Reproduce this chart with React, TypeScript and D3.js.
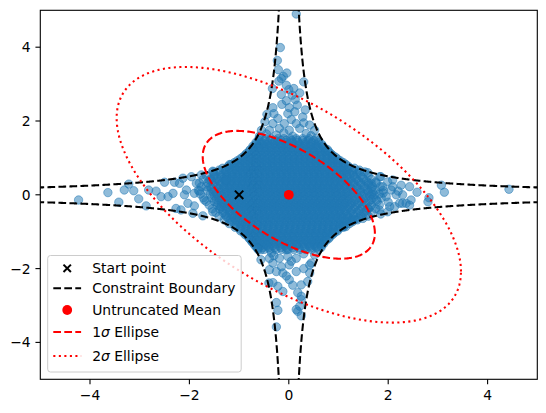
import React from 'react';
import * as d3 from 'd3';

const W = 546;
const H = 413;
const xDomain: [number, number] = [-5, 5];
const yDomain: [number, number] = [-5, 5];
const xTicks = [-4, -2, 0, 2, 4];
const yTicks = [-4, -2, 0, 2, 4];

const meanVec = [0, 0];
const covMat = [[3, -1.8], [-1.8, 3]];
const startPoint = [-1, 0];
const constraintC = 1;
const ellipseSigmas = [1, 2];

const legendLabels = ['Start point', 'Constraint Boundary', 'Untruncated Mean', '1σ Ellipse', '2σ Ellipse'];

// dense core of the sample cloud, one row per y value
const coreRows: [number, number[]][] = [
  [1.52, [-0.6, -0.47, -0.36, -0.22, -0.1, 0.03, 0.15, 0.28, 0.41, 0.55]],
  [1.42, [-0.66, -0.55, -0.43, -0.3, -0.19, -0.06, 0.07, 0.19, 0.33, 0.46, 0.6]],
  [1.32, [-0.72, -0.61, -0.5, -0.39, -0.27, -0.15, -0.04, 0.09, 0.2, 0.31, 0.43, 0.55, 0.68]],
  [1.22, [-0.78, -0.67, -0.56, -0.45, -0.34, -0.22, -0.11, 0, 0.12, 0.23, 0.35, 0.46, 0.58, 0.7, 0.78]],
  [1.12, [-0.85, -0.74, -0.62, -0.51, -0.4, -0.29, -0.17, -0.06, 0.05, 0.16, 0.28, 0.39, 0.5, 0.62, 0.73, 0.84]],
  [1.02, [-0.93, -0.82, -0.71, -0.6, -0.49, -0.37, -0.26, -0.14, -0.03, 0.09, 0.2, 0.31, 0.42, 0.54, 0.65, 0.76, 0.87, 0.94]],
  [0.92, [-1.04, -0.93, -0.82, -0.71, -0.6, -0.48, -0.37, -0.26, -0.15, -0.04, 0.07, 0.18, 0.29, 0.4, 0.51, 0.62, 0.73, 0.84, 0.95, 1.04]],
  [0.82, [-1.16, -1.05, -0.94, -0.83, -0.72, -0.61, -0.5, -0.39, -0.28, -0.17, -0.06, 0.05, 0.16, 0.27, 0.38, 0.49, 0.6, 0.71, 0.82, 0.93, 1.04, 1.15]],
  [0.72, [-1.33, -1.2, -1.09, -0.98, -0.87, -0.76, -0.65, -0.54, -0.43, -0.32, -0.21, -0.1, 0.01, 0.12, 0.23, 0.34, 0.45, 0.56, 0.67, 0.78, 0.89, 1.0, 1.11, 1.22, 1.32]],
  [0.62, [-1.52, -1.38, -1.26, -1.15, -1.04, -0.93, -0.82, -0.71, -0.6, -0.49, -0.38, -0.27, -0.16, -0.05, 0.06, 0.17, 0.28, 0.39, 0.5, 0.61, 0.72, 0.83, 0.94, 1.05, 1.16, 1.28, 1.42, 1.53]],
  [0.52, [-1.66, -1.5, -1.37, -1.25, -1.14, -1.03, -0.92, -0.81, -0.7, -0.59, -0.48, -0.37, -0.26, -0.15, -0.04, 0.07, 0.18, 0.29, 0.4, 0.51, 0.62, 0.73, 0.84, 0.95, 1.06, 1.17, 1.3, 1.44, 1.6]],
  [0.42, [-1.72, -1.57, -1.44, -1.31, -1.2, -1.09, -0.98, -0.87, -0.76, -0.65, -0.54, -0.43, -0.32, -0.21, -0.1, 0.01, 0.12, 0.23, 0.34, 0.45, 0.56, 0.67, 0.78, 0.89, 1.0, 1.11, 1.23, 1.36, 1.5, 1.66]],
  [0.32, [-1.8, -1.63, -1.49, -1.36, -1.25, -1.14, -1.03, -0.92, -0.81, -0.7, -0.59, -0.48, -0.37, -0.26, -0.15, -0.04, 0.07, 0.18, 0.29, 0.4, 0.51, 0.62, 0.73, 0.84, 0.95, 1.06, 1.18, 1.31, 1.45, 1.6, 1.76]],
  [0.22, [-1.76, -1.58, -1.44, -1.31, -1.2, -1.09, -0.98, -0.87, -0.76, -0.65, -0.54, -0.43, -0.32, -0.21, -0.1, 0.01, 0.12, 0.23, 0.34, 0.45, 0.56, 0.67, 0.78, 0.89, 1.0, 1.12, 1.24, 1.37, 1.52, 1.68, 1.84]],
  [0.12, [-1.82, -1.64, -1.5, -1.37, -1.25, -1.14, -1.03, -0.92, -0.81, -0.7, -0.59, -0.48, -0.37, -0.26, -0.15, -0.04, 0.07, 0.18, 0.29, 0.4, 0.51, 0.62, 0.73, 0.84, 0.95, 1.06, 1.18, 1.3, 1.44, 1.58, 1.74, 1.9]],
  [0.02, [-1.78, -1.58, -1.44, -1.31, -1.2, -1.09, -0.98, -0.87, -0.76, -0.65, -0.54, -0.43, -0.32, -0.21, -0.1, 0.01, 0.12, 0.23, 0.34, 0.45, 0.56, 0.67, 0.78, 0.89, 1.0, 1.12, 1.24, 1.37, 1.51, 1.66, 1.82]],
  [-0.08, [-1.72, -1.55, -1.41, -1.28, -1.16, -1.05, -0.94, -0.83, -0.72, -0.61, -0.5, -0.39, -0.28, -0.17, -0.06, 0.05, 0.16, 0.27, 0.38, 0.49, 0.6, 0.71, 0.82, 0.93, 1.04, 1.16, 1.28, 1.41, 1.55, 1.7, 1.86]],
  [-0.18, [-1.66, -1.5, -1.36, -1.24, -1.13, -1.02, -0.91, -0.8, -0.69, -0.58, -0.47, -0.36, -0.25, -0.14, -0.03, 0.08, 0.19, 0.3, 0.41, 0.52, 0.63, 0.74, 0.85, 0.96, 1.07, 1.19, 1.32, 1.46, 1.61, 1.78]],
  [-0.28, [-1.6, -1.44, -1.31, -1.19, -1.08, -0.97, -0.86, -0.75, -0.64, -0.53, -0.42, -0.31, -0.2, -0.09, 0.02, 0.13, 0.24, 0.35, 0.46, 0.57, 0.68, 0.79, 0.9, 1.01, 1.12, 1.24, 1.37, 1.51, 1.66, 1.82]],
  [-0.38, [-1.54, -1.39, -1.26, -1.14, -1.03, -0.92, -0.81, -0.7, -0.59, -0.48, -0.37, -0.26, -0.15, -0.04, 0.07, 0.18, 0.29, 0.4, 0.51, 0.62, 0.73, 0.84, 0.95, 1.06, 1.18, 1.31, 1.45, 1.6, 1.75]],
  [-0.48, [-1.47, -1.33, -1.2, -1.08, -0.97, -0.86, -0.75, -0.64, -0.53, -0.42, -0.31, -0.2, -0.09, 0.02, 0.13, 0.24, 0.35, 0.46, 0.57, 0.68, 0.79, 0.9, 1.01, 1.12, 1.24, 1.37, 1.51, 1.66]],
  [-0.58, [-1.4, -1.26, -1.14, -1.03, -0.92, -0.81, -0.7, -0.59, -0.48, -0.37, -0.26, -0.15, -0.04, 0.07, 0.18, 0.29, 0.4, 0.51, 0.62, 0.73, 0.84, 0.95, 1.06, 1.18, 1.31, 1.45, 1.6]],
  [-0.68, [-1.3, -1.18, -1.07, -0.96, -0.85, -0.74, -0.63, -0.52, -0.41, -0.3, -0.19, -0.08, 0.03, 0.14, 0.25, 0.36, 0.47, 0.58, 0.69, 0.8, 0.91, 1.02, 1.13, 1.25, 1.38]],
  [-0.78, [-1.2, -1.09, -0.98, -0.87, -0.76, -0.65, -0.54, -0.43, -0.32, -0.21, -0.1, 0.01, 0.12, 0.23, 0.34, 0.45, 0.56, 0.67, 0.78, 0.89, 1.0, 1.11, 1.22]],
  [-0.88, [-1.08, -0.97, -0.86, -0.75, -0.64, -0.53, -0.42, -0.31, -0.2, -0.09, 0.02, 0.13, 0.24, 0.35, 0.46, 0.57, 0.68, 0.79, 0.9, 1.02, 1.1]],
  [-0.98, [-0.97, -0.86, -0.75, -0.64, -0.53, -0.42, -0.31, -0.2, -0.09, 0.02, 0.13, 0.24, 0.35, 0.46, 0.57, 0.68, 0.79, 0.9, 0.98]],
  [-1.08, [-0.88, -0.77, -0.66, -0.55, -0.44, -0.33, -0.22, -0.11, 0, 0.11, 0.22, 0.33, 0.44, 0.55, 0.66, 0.77, 0.88]],
  [-1.18, [-0.8, -0.69, -0.58, -0.47, -0.36, -0.25, -0.14, -0.03, 0.08, 0.19, 0.3, 0.41, 0.52, 0.63, 0.74, 0.81]],
  [-1.28, [-0.74, -0.63, -0.52, -0.41, -0.3, -0.19, -0.08, 0.03, 0.14, 0.25, 0.36, 0.47, 0.58, 0.69]],
  [-1.38, [-0.68, -0.56, -0.44, -0.32, -0.2, -0.08, 0.04, 0.16, 0.28, 0.4, 0.52, 0.65]],
  [-1.48, [-0.62, -0.5, -0.38, -0.26, -0.14, -0.02, 0.1, 0.22, 0.34, 0.46, 0.6]],
];

// interleaved rows of the core (the densest part of the cloud)
const coreRowsInner: [number, number[]][] = [
  [1.47, [-0.6, -0.49, -0.38, -0.27, -0.16, -0.05, 0.06, 0.17, 0.28, 0.39, 0.5, 0.6]],
  [1.37, [-0.66, -0.55, -0.44, -0.33, -0.22, -0.11, 0, 0.11, 0.22, 0.33, 0.44, 0.55, 0.66]],
  [1.27, [-0.72, -0.61, -0.5, -0.39, -0.28, -0.17, -0.06, 0.05, 0.16, 0.27, 0.38, 0.49, 0.6, 0.72]],
  [1.17, [-0.8, -0.69, -0.58, -0.47, -0.36, -0.25, -0.14, -0.03, 0.08, 0.19, 0.3, 0.41, 0.52, 0.63, 0.74, 0.8]],
  [1.07, [-0.88, -0.77, -0.66, -0.55, -0.44, -0.33, -0.22, -0.11, 0, 0.11, 0.22, 0.33, 0.44, 0.55, 0.66, 0.77, 0.88]],
  [0.97, [-0.98, -0.87, -0.76, -0.65, -0.54, -0.43, -0.32, -0.21, -0.1, 0.01, 0.12, 0.23, 0.34, 0.45, 0.56, 0.67, 0.78, 0.89, 0.98]],
  [0.87, [-1.1, -0.99, -0.88, -0.77, -0.66, -0.55, -0.44, -0.33, -0.22, -0.11, 0, 0.11, 0.22, 0.33, 0.44, 0.55, 0.66, 0.77, 0.88, 0.99, 1.1]],
  [0.77, [-1.22, -1.1, -0.99, -0.88, -0.77, -0.66, -0.55, -0.44, -0.33, -0.22, -0.11, 0, 0.11, 0.22, 0.33, 0.44, 0.55, 0.66, 0.77, 0.88, 0.99, 1.1, 1.2]],
  [0.67, [-1.4, -1.27, -1.15, -1.04, -0.93, -0.82, -0.71, -0.6, -0.49, -0.38, -0.27, -0.16, -0.05, 0.06, 0.17, 0.28, 0.39, 0.5, 0.61, 0.72, 0.83, 0.94, 1.05, 1.17, 1.3]],
  [0.57, [-1.5, -1.32, -1.2, -1.09, -0.98, -0.87, -0.76, -0.65, -0.54, -0.43, -0.32, -0.21, -0.1, 0.01, 0.12, 0.23, 0.34, 0.45, 0.56, 0.67, 0.78, 0.89, 1.0, 1.11, 1.23, 1.37]],
  [0.47, [-1.5, -1.36, -1.25, -1.14, -1.03, -0.92, -0.81, -0.7, -0.59, -0.48, -0.37, -0.26, -0.15, -0.04, 0.07, 0.18, 0.29, 0.4, 0.51, 0.62, 0.73, 0.84, 0.95, 1.06, 1.18, 1.32, 1.48]],
  [0.37, [-1.55, -1.4, -1.28, -1.17, -1.06, -0.95, -0.84, -0.73, -0.62, -0.51, -0.4, -0.29, -0.18, -0.07, 0.04, 0.15, 0.26, 0.37, 0.48, 0.59, 0.7, 0.81, 0.92, 1.03, 1.14, 1.26, 1.4, 1.56]],
  [0.27, [-1.52, -1.38, -1.26, -1.15, -1.04, -0.93, -0.82, -0.71, -0.6, -0.49, -0.38, -0.27, -0.16, -0.05, 0.06, 0.17, 0.28, 0.39, 0.5, 0.61, 0.72, 0.83, 0.94, 1.05, 1.17, 1.3, 1.45, 1.6]],
  [0.17, [-1.56, -1.42, -1.3, -1.19, -1.08, -0.97, -0.86, -0.75, -0.64, -0.53, -0.42, -0.31, -0.2, -0.09, 0.02, 0.13, 0.24, 0.35, 0.46, 0.57, 0.68, 0.79, 0.9, 1.01, 1.12, 1.24, 1.37, 1.52, 1.66]],
  [0.07, [-1.52, -1.38, -1.26, -1.15, -1.04, -0.93, -0.82, -0.71, -0.6, -0.49, -0.38, -0.27, -0.16, -0.05, 0.06, 0.17, 0.28, 0.39, 0.5, 0.61, 0.72, 0.83, 0.94, 1.05, 1.17, 1.3, 1.44, 1.6]],
  [-0.03, [-1.5, -1.36, -1.24, -1.13, -1.02, -0.91, -0.8, -0.69, -0.58, -0.47, -0.36, -0.25, -0.14, -0.03, 0.08, 0.19, 0.3, 0.41, 0.52, 0.63, 0.74, 0.85, 0.96, 1.07, 1.19, 1.32, 1.47, 1.63]],
  [-0.13, [-1.46, -1.33, -1.21, -1.1, -0.99, -0.88, -0.77, -0.66, -0.55, -0.44, -0.33, -0.22, -0.11, 0, 0.11, 0.22, 0.33, 0.44, 0.55, 0.66, 0.77, 0.88, 0.99, 1.1, 1.22, 1.35, 1.5, 1.66]],
  [-0.23, [-1.42, -1.29, -1.17, -1.06, -0.95, -0.84, -0.73, -0.62, -0.51, -0.4, -0.29, -0.18, -0.07, 0.04, 0.15, 0.26, 0.37, 0.48, 0.59, 0.7, 0.81, 0.92, 1.03, 1.14, 1.26, 1.4, 1.55]],
  [-0.33, [-1.37, -1.24, -1.12, -1.01, -0.9, -0.79, -0.68, -0.57, -0.46, -0.35, -0.24, -0.13, -0.02, 0.09, 0.2, 0.31, 0.42, 0.53, 0.64, 0.75, 0.86, 0.97, 1.08, 1.2, 1.33, 1.48, 1.64]],
  [-0.43, [-1.32, -1.19, -1.08, -0.97, -0.86, -0.75, -0.64, -0.53, -0.42, -0.31, -0.2, -0.09, 0.02, 0.13, 0.24, 0.35, 0.46, 0.57, 0.68, 0.79, 0.9, 1.01, 1.13, 1.26, 1.41, 1.56]],
  [-0.53, [-1.28, -1.15, -1.04, -0.93, -0.82, -0.71, -0.6, -0.49, -0.38, -0.27, -0.16, -0.05, 0.06, 0.17, 0.28, 0.39, 0.5, 0.61, 0.72, 0.83, 0.94, 1.05, 1.17, 1.3, 1.45]],
  [-0.63, [-1.22, -1.1, -0.99, -0.88, -0.77, -0.66, -0.55, -0.44, -0.33, -0.22, -0.11, 0, 0.11, 0.22, 0.33, 0.44, 0.55, 0.66, 0.77, 0.88, 0.99, 1.1, 1.22, 1.4]],
  [-0.73, [-1.14, -1.03, -0.92, -0.81, -0.7, -0.59, -0.48, -0.37, -0.26, -0.15, -0.04, 0.07, 0.18, 0.29, 0.4, 0.51, 0.62, 0.73, 0.84, 0.95, 1.06, 1.17, 1.28]],
  [-0.83, [-1.06, -0.95, -0.84, -0.73, -0.62, -0.51, -0.4, -0.29, -0.18, -0.07, 0.04, 0.15, 0.26, 0.37, 0.48, 0.59, 0.7, 0.81, 0.92, 1.03, 1.12]],
  [-0.93, [-0.98, -0.87, -0.76, -0.65, -0.54, -0.43, -0.32, -0.21, -0.1, 0.01, 0.12, 0.23, 0.34, 0.45, 0.56, 0.67, 0.78, 0.89, 1.0]],
  [-1.03, [-0.9, -0.79, -0.68, -0.57, -0.46, -0.35, -0.24, -0.13, -0.02, 0.09, 0.2, 0.31, 0.42, 0.53, 0.64, 0.75, 0.86, 0.92]],
  [-1.13, [-0.82, -0.71, -0.6, -0.49, -0.38, -0.27, -0.16, -0.05, 0.06, 0.17, 0.28, 0.39, 0.5, 0.61, 0.72, 0.83]],
  [-1.23, [-0.76, -0.65, -0.54, -0.43, -0.32, -0.21, -0.1, 0.01, 0.12, 0.23, 0.34, 0.45, 0.56, 0.67, 0.76]],
  [-1.33, [-0.7, -0.59, -0.48, -0.37, -0.26, -0.15, -0.04, 0.07, 0.18, 0.29, 0.4, 0.51, 0.62, 0.7]],
  [-1.43, [-0.64, -0.52, -0.4, -0.28, -0.16, -0.04, 0.08, 0.2, 0.32, 0.44, 0.56, 0.65]],
];

const upperArm: [number, number][] = [
  [0.15, 4.9], [-0.17, 3.99], [-0.23, 3.64], [-0.21, 3.39], [-0.04, 3.3], [-0.11, 3.21], [-0.15, 3.15],
  [-0.2, 3.08], [0.3, 3.06], [-0.05, 2.97], [-0.33, 2.88], [0, 2.85], [0.1, 2.88], [0.22, 2.76], [0.07, 2.7],
  [-0.15, 2.72], [0.13, 2.58], [-0.14, 2.45], [-0.32, 2.36], [0.01, 2.36], [0.17, 2.43], [-0.44, 2.18],
  [-0.22, 2.07], [-0.02, 2.2], [0.05, 2.04], [0.28, 2.11], [-0.48, 1.98], [-0.32, 1.93], [-0.09, 1.93],
  [0.15, 1.93], [0.42, 1.89], [0.52, 1.75], [-0.55, 1.75], [-0.39, 1.75], [-0.19, 1.8], [0.01, 1.75],
  [0.22, 1.8], [0.35, 1.66], [-0.59, 1.59], [-0.25, 1.62], [0.08, 1.59], [-0.45, 1.65], [0.45, 1.6],
  [-0.1, 1.68], [0.3, 1.95], [-0.3, 2.2], [0.12, 2.25], [-0.05, 2.55], [0.33, 2.3],
];

const lowerArm: [number, number][] = [
  [-0.25, -3.58], [-0.22, -3.13], [-0.25, -2.92], [-0.12, -2.62], [-0.22, -2.48], [-0.32, -2.38], [-0.4, -2.39],
  [0.18, -3.16], [0.25, -3.28], [0.22, -3.02], [0.25, -2.84], [0.18, -2.65], [0.25, -2.44], [0.38, -2.35],
  [0.01, -2.3], [0.15, -2.08], [-0.12, -2.12], [-0.25, -2.08], [-0.39, -2.03], [0.42, -2.12], [0.45, -1.85],
  [0.01, -1.9], [-0.32, -1.85], [-0.56, -1.76], [-0.19, -1.72], [0.15, -1.72], [-0.35, -1.58], [-0.05, -1.49],
  [-0.56, -1.49], [-0.45, -1.36], [0.15, -1.36], [0.42, -1.4], [-0.62, -1.45], [-0.39, -1.72], [-0.02, -1.67],
  [0.52, -1.63], [0.58, -1.4], [0.42, -1.9], [0.25, -2.75], [0.15, -3.11], [-0.3, -1.65], [0.3, -1.6],
  [0.05, -1.8], [-0.15, -1.95], [0.3, -2.0], [0.08, -2.45], [-0.05, -2.2],
];

const leftArm: [number, number][] = [
  [-4.23, -0.14], [-3.64, 0.06], [-3.42, -0.2], [-3.22, 0.29], [-3.31, 0.13], [-3.12, 0.11], [-3.02, -0.11],
  [-2.87, -0.3], [-2.82, 0.13], [-2.67, 0.1], [-2.57, -0.05], [-2.5, 0.34], [-2.43, -0.05], [-2.33, 0.04],
  [-2.3, 0.34], [-2.2, 0.31], [-2.13, 0.45], [-2.27, -0.37], [-2.17, -0.41], [-2.03, -0.23], [-1.96, 0.49],
  [-2.06, 0.13], [-1.9, 0.04], [-1.86, 0.31], [-1.93, -0.5], [-1.73, -0.57], [-1.53, -0.46], [-1.7, -0.14],
  [-1.76, 0.54], [-1.66, 0.22], [-1.53, 0.64], [-1.46, 0.04], [-1.36, -0.32], [-1.26, 0.4], [-1.19, 0.82],
  [-1.6, 0.4], [-1.9, -0.3], [-2.1, 0.0], [-1.8, 0.1],
];

const rightArm: [number, number][] = [
  [4.43, 0.15], [3.07, 0.26], [3.13, 0.07], [2.82, -0.08], [2.58, 0.07], [2.46, -0.14], [2.36, -0.23],
  [2.43, 0.22], [2.26, 0.26], [2.29, 0.0], [2.23, -0.23], [2.09, 0.4], [2.06, 0.13], [2.13, -0.32],
  [1.89, 0.22], [1.96, -0.05], [1.99, -0.46], [1.85, 0.49], [1.76, -0.14], [1.72, 0.0], [1.85, -0.52],
  [1.66, 0.31], [1.59, -0.37], [1.49, -0.64], [1.42, 0.67], [1.32, -0.68], [1.15, -0.86], [1.83, 0.49],
  [1.99, 0.35], [1.59, 0.6], [1.69, 0.08], [2.09, 0.22], [2.16, 0.0], [2.29, -0.23], [2.43, -0.28],
  [1.82, -0.41], [2.03, -0.32], [1.56, -0.55], [1.29, -0.68], [1.09, -0.86], [2.8, -0.19],
  [1.9, 0.05], [2.0, -0.2], [1.75, 0.35], [2.2, 0.1],
];

const X0 = 40.3, X1 = 537.3, Y0 = 10.3, Y1 = 379.3;
const FONT = '"DejaVu Sans", Verdana, sans-serif';
const FS = 13.89;
const BLUE = '#1f77b4';

export default function App() {
  const x = d3.scaleLinear().domain(xDomain).range([X0, X1]);
  const y = d3.scaleLinear().domain(yDomain).range([Y1, Y0]);

  const samples: [number, number][] = [];
  coreRows.forEach(([yy, xs]) => xs.forEach((xx) => samples.push([xx, yy])));
  coreRowsInner.forEach(([yy, xs]) => xs.forEach((xx) => samples.push([xx, yy])));
  samples.push(...upperArm, ...lowerArm, ...leftArm, ...rightArm);

  const line = d3.line<[number, number]>().x((d) => x(d[0])).y((d) => y(d[1]));

  // constraint boundary |x*y| = C, four branches
  const posX = d3.range(0.15, 5.3, 0.005);
  const branchPaths = [1, -1].flatMap((sx) =>
    [1, -1].map((sy) => line(posX.map((v) => [sx * v, (sy * constraintC) / v] as [number, number]))!)
  );

  // ellipses via Cholesky factor of the covariance
  const a = Math.sqrt(covMat[0][0]);
  const b = covMat[1][0] / a;
  const c = Math.sqrt(covMat[1][1] - b * b);
  const angles = d3.range(0, 2 * Math.PI + 0.001, Math.PI / 180);
  const ellipsePath = (k: number) =>
    line(
      angles.map((t) => [
        meanVec[0] + k * a * Math.cos(t),
        meanVec[1] + k * (b * Math.cos(t) + c * Math.sin(t)),
      ] as [number, number])
    )! + 'Z';

  const sx0 = x(startPoint[0]);
  const sy0 = y(startPoint[1]);
  const xs = 4.2;

  const legX = 47.7, legY = 255.5, legW = 193.5, legH = 116.5;
  const hx0 = 53.3, hx1 = 81.1, hxc = 67.2, tx = 92.2;
  const rowsY = [268.3, 288.3, 310.0, 332.0, 356.0];

  return (
    <svg
      width={W}
      height={H}
      style={{ position: 'absolute', left: 0, top: 0, background: '#fff' }}
      fontFamily={FONT}
    >
      <defs>
        <clipPath id="plotClip">
          <rect x={X0} y={Y0} width={X1 - X0} height={Y1 - Y0} />
        </clipPath>
      </defs>
      <rect x={0} y={0} width={W} height={H} fill="#fff" />
      <g clipPath="url(#plotClip)">
        {samples.map((d, i) => (
          <circle
            key={i}
            cx={x(d[0])}
            cy={y(d[1])}
            r={4.2}
            fill={BLUE}
            fillOpacity={0.5}
            stroke={BLUE}
            strokeOpacity={0.5}
            strokeWidth={1}
          />
        ))}
        {branchPaths.map((p, i) => (
          <path key={i} d={p} fill="none" stroke="#000" strokeWidth={2.08} strokeDasharray="7.7,3.3" />
        ))}
        <g stroke="#000" strokeWidth={2}>
          <line x1={sx0 - xs} y1={sy0 - xs} x2={sx0 + xs} y2={sy0 + xs} />
          <line x1={sx0 - xs} y1={sy0 + xs} x2={sx0 + xs} y2={sy0 - xs} />
        </g>
        <circle cx={x(meanVec[0])} cy={y(meanVec[1])} r={4.9} fill="red" />
        <path d={ellipsePath(ellipseSigmas[0])} fill="none" stroke="red" strokeWidth={2.08} strokeDasharray="7.7,3.3" />
        <path d={ellipsePath(ellipseSigmas[1])} fill="none" stroke="red" strokeWidth={2.08} strokeDasharray="2.08,3.44" />
      </g>
      <rect x={X0} y={Y0} width={X1 - X0} height={Y1 - Y0} fill="none" stroke="#000" strokeWidth={1.1} />
      {xTicks.map((t) => (
        <g key={'x' + t}>
          <line x1={x(t)} x2={x(t)} y1={Y1} y2={Y1 + 4.86} stroke="#000" strokeWidth={1.1} />
          <text x={x(t)} y={399.6} textAnchor="middle" fontSize={FS} fill="#000">
            {t < 0 ? '\u2212' + Math.abs(t) : String(t)}
          </text>
        </g>
      ))}
      {yTicks.map((t) => (
        <g key={'y' + t}>
          <line x1={X0 - 4.86} x2={X0} y1={y(t)} y2={y(t)} stroke="#000" strokeWidth={1.1} />
          <text x={30.6} y={y(t) + 5} textAnchor="end" fontSize={FS} fill="#000">
            {t < 0 ? '\u2212' + Math.abs(t) : String(t)}
          </text>
        </g>
      ))}
      <g>
        <rect x={legX} y={legY} width={legW} height={legH} rx={2.8} fill="#fff" fillOpacity={0.8} stroke="#cccccc" strokeWidth={1} />
        <g stroke="#000" strokeWidth={2}>
          <line x1={hxc - 3.7} y1={rowsY[0] - 3.7} x2={hxc + 3.7} y2={rowsY[0] + 3.7} />
          <line x1={hxc - 3.7} y1={rowsY[0] + 3.7} x2={hxc + 3.7} y2={rowsY[0] - 3.7} />
        </g>
        <line x1={hx0} x2={hx1} y1={rowsY[1]} y2={rowsY[1]} stroke="#000" strokeWidth={2.08} strokeDasharray="7.7,3.3" />
        <circle cx={hxc} cy={rowsY[2]} r={4.9} fill="red" />
        <line x1={hx0} x2={hx1} y1={rowsY[3]} y2={rowsY[3]} stroke="red" strokeWidth={2.08} strokeDasharray="7.7,3.3" />
        <line x1={hx0} x2={hx1} y1={rowsY[4]} y2={rowsY[4]} stroke="red" strokeWidth={2.08} strokeDasharray="2.08,3.44" />
        {legendLabels.map((lab, i) => {
          const m = lab.match(/^(\d)σ(.*)$/);
          return (
            <text key={lab} x={tx} y={rowsY[i] + 4.8} fontSize={FS} fill="#000">
              {m ? (
                <>
                  <tspan>{m[1]}</tspan>
                  <tspan fontStyle="italic">σ</tspan>
                  <tspan>{m[2]}</tspan>
                </>
              ) : (
                lab
              )}
            </text>
          );
        })}
      </g>
    </svg>
  );
}
